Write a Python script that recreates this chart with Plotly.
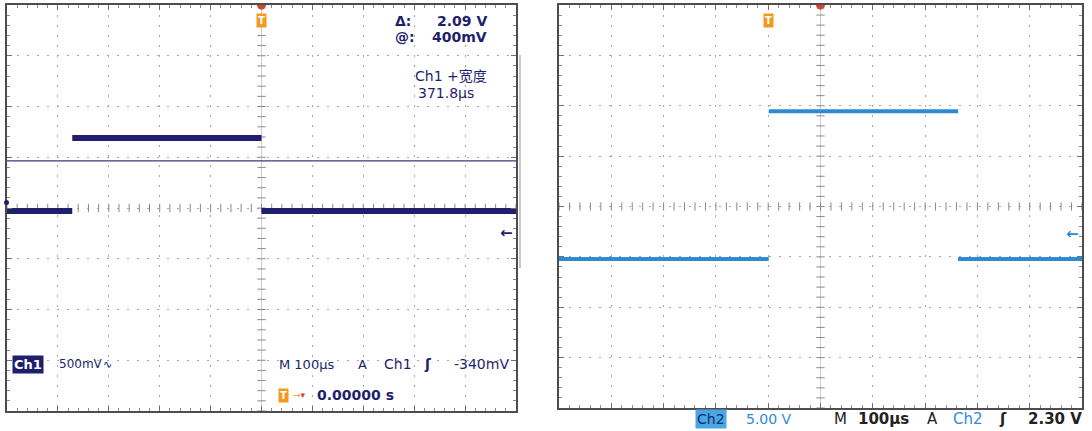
import numpy as np
import plotly.graph_objects as go

W, H = 1092, 431

# ---------------- data (time in µs, level in screen divisions) ----------------
ch1_t = [-500, -371.8, None, -371.8, 0, None, 0, 500]
ch1_v = [-0.06, -0.06, None, 1.38, 1.38, None, -0.06, -0.06]
ch1_cursor_v = 0.93          # horizontal cursor (@: 400mV)
ch1_ground_v = -0.49

ch2_t = [-500, -99, None, -99, 263, None, 263, 500]
ch2_v = [-1.04, -1.04, None, 1.89, 1.89, None, -1.04, -1.04]
ch2_ground_v = -0.55
ch2_trig_t = -100

# readout texts
left_meas = ["Δ:", "2.09 V", "@:", "400mV", "Ch1 +宽度", "371.8µs"]
left_bottom = ["Ch1", "500mV", "∿", "M 100µs", "A", "Ch1", "ʃ", "-340mV", "0.00000 s"]
right_bottom = ["Ch2", "5.00 V", "M", "100µs", "A", "Ch2", "ʃ", "2.30 V"]

# ---------------- styling ----------------
NAVY = "#1f1f6e"
BLUE = "#2f8ad6"
ORANGE = "#f39a1e"
GRID = "#a8a8a8"
FRAME = "#4d4d4d"
FONT = "DejaVu Sans, Noto Sans CJK SC"
DARK = "#222222"


def P(x, y):
    return x / W, 1 - y / H


def xax(domain, anchor):
    return dict(domain=domain, anchor=anchor, range=[-500, 500], dtick=100, tick0=0,
                showgrid=True, gridcolor=GRID, griddash="2px,8px", gridwidth=1,
                showline=True, mirror="ticks", linecolor=FRAME, linewidth=1.5,
                ticks="inside", ticklen=5, tickcolor="#707070", showticklabels=False,
                zeroline=True, zerolinecolor="#cdcdcd", zerolinewidth=1, fixedrange=True,
                minor=dict(dtick=20, ticks="inside", ticklen=3, tickcolor="#8a8a8a",
                           showgrid=False))


def yax(domain, anchor):
    return dict(domain=domain, anchor=anchor, range=[-4, 4], dtick=1, tick0=0,
                showgrid=True, gridcolor=GRID, griddash="2px,8px", gridwidth=1,
                showline=True, mirror="ticks", linecolor=FRAME, linewidth=1.5,
                ticks="inside", ticklen=5, tickcolor="#707070", showticklabels=False,
                zeroline=False, fixedrange=True,
                minor=dict(dtick=0.2, ticks="inside", ticklen=3, tickcolor="#8a8a8a",
                           showgrid=False))


fig = go.Figure()

tick_x = np.arange(-500, 501, 20)
tick_y = np.arange(-4, 4.001, 0.2)

for xa, ya in (("x", "y"), ("x2", "y2")):
    # centre cross ticks
    fig.add_trace(go.Scatter(x=tick_x, y=[0] * len(tick_x), xaxis=xa, yaxis=ya, mode="markers",
                             marker=dict(symbol="line-ns", size=6,
                                         line=dict(width=1, color="#8a8a8a")),
                             hoverinfo="skip"))
    fig.add_trace(go.Scatter(x=[0] * len(tick_y), y=tick_y, xaxis=xa, yaxis=ya, mode="markers",
                             marker=dict(symbol="line-ew", size=6,
                                         line=dict(width=1, color="#8a8a8a")),
                             hoverinfo="skip"))
    # red trigger position marker at top
    fig.add_trace(go.Scatter(x=[0], y=[4], xaxis=xa, yaxis=ya, mode="markers",
                             marker=dict(symbol="circle", size=9, color="#e0402a"),
                             cliponaxis=True, hoverinfo="skip"))

# cursor line (left)
fig.add_trace(go.Scatter(x=[-500, 500], y=[ch1_cursor_v] * 2, xaxis="x", yaxis="y",
                         mode="lines", line=dict(color="#3a3a7a", width=1.2),
                         hoverinfo="skip"))

# Ch1 trace
fig.add_trace(go.Scatter(x=ch1_t, y=ch1_v, xaxis="x", yaxis="y", mode="lines",
                         line=dict(color=NAVY, width=6), connectgaps=False))
# Ch2 trace
fig.add_trace(go.Scatter(x=ch2_t, y=ch2_v, xaxis="x2", yaxis="y2", mode="lines",
                         line=dict(color=BLUE, width=4), connectgaps=False))

ann = []
# ground arrows
ann.append(dict(x=498, y=ch1_ground_v, xref="x", yref="y", text="<b>←</b>", showarrow=False,
                font=dict(family=FONT, size=15, color=NAVY), xanchor="right"))
ann.append(dict(x=498, y=ch2_ground_v, xref="x2", yref="y2", text="<b>←</b>", showarrow=False,
                font=dict(family=FONT, size=15, color=BLUE), xanchor="right"))

# trigger "T" markers
ann.append(dict(x=0, y=3.7, xref="x", yref="y", text="<b>T</b>", showarrow=False,
                bgcolor=ORANGE, borderpad=1, font=dict(family=FONT, size=10, color="white")))
ann.append(dict(x=ch2_trig_t, y=3.7, xref="x2", yref="y2", text="<b>T</b>", showarrow=False,
                bgcolor=ORANGE, borderpad=1, font=dict(family=FONT, size=10, color="white")))


def T(x, y, text, anchor="left", size=13, color=NAVY, bold=False, **kw):
    px, py = P(x, y)
    t = "<b>" + text + "</b>" if bold else text
    d = dict(x=px, y=py, text=t, xanchor=anchor,
             font=dict(family=FONT, size=size, color=color))
    d.update(kw)
    return d


# top-right measurement readouts (left screen)
ann += [
    T(393, 21, left_meas[0], size=14, bold=True),
    T(489, 21, left_meas[1], "right", size=14, bold=True),
    T(393, 37, left_meas[2], size=14, bold=True),
    T(489, 37, left_meas[3], "right", size=14, bold=True),
    T(489, 76, left_meas[4], "right", size=14),
    T(446, 93, left_meas[5], "center", size=14),
]
# bottom readouts (left screen)
ann += [
    T(12, 364, left_bottom[0], size=13, color="white", bold=True, bgcolor=NAVY, borderpad=1),
    T(57, 364, left_bottom[1], size=12),
    T(101, 364, left_bottom[2], size=11),
    T(277, 364, left_bottom[3], size=13),
    T(356, 364, left_bottom[4], size=13),
    T(382, 364, left_bottom[5], size=14),
    T(422, 364, left_bottom[6], size=14, bold=True),
    T(511, 364, left_bottom[7], "right", size=14),
    T(278, 395, "T", size=10, color="white", bold=True, bgcolor=ORANGE, borderpad=1),
    T(291, 395, "→<span style='color:#e0402a'>▾</span>", size=9, color=ORANGE),
    T(315, 395, left_bottom[8], size=14, bold=True),
]
# bottom readouts (below right screen)
ry = 419
ann += [
    T(695, ry, right_bottom[0], size=14, color="#0e2f6a", bgcolor="#4aa6e4", borderpad=1),
    T(744, ry, right_bottom[1], size=14, color=BLUE),
    T(832, ry, right_bottom[2], size=15, color=DARK),
    T(856, ry, right_bottom[3], size=15, color=DARK, bold=True),
    T(925, ry, right_bottom[4], size=15, color=DARK),
    T(951, ry, right_bottom[5], size=15, color=BLUE),
    T(997, ry, right_bottom[6], size=15, color=DARK, bold=True),
    T(1084, ry, right_bottom[7], "right", size=15, color=DARK, bold=True),
]
for a in ann:
    a.setdefault("xref", "paper")
    a.setdefault("yref", "paper")
    a.setdefault("showarrow", False)
    a.setdefault("yanchor", "middle")

shapes = [
    # thin side bar next to the left screen
    dict(type="line", xref="paper", yref="paper", x0=520 / W, x1=520 / W,
         y0=1 - 55 / H, y1=1 - 268 / H, line=dict(color="#c8c8c8", width=2)),
    # small channel marker on the left edge of the left screen
    dict(type="circle", xref="paper", yref="paper", x0=4 / W, x1=9 / W,
         y0=1 - 205 / H, y1=1 - 200 / H, fillcolor=NAVY, line=dict(width=0)),
]

fig.update_layout(
    width=W, height=H, margin=dict(l=0, r=0, t=0, b=0),
    paper_bgcolor="white", plot_bgcolor="white", showlegend=False,
    xaxis=xax([7 / W, 516 / W], "y"),
    yaxis=yax([1 - 411 / H, 1 - 5 / H], "x"),
    xaxis2=xax([559 / W, 1082 / W], "y2"),
    yaxis2=yax([1 - 408 / H, 1 - 5 / H], "x2"),
    annotations=ann, shapes=shapes,
)

fig.write_html("out.html", config={"displayModeBar": False},
               post_script="document.body.style.margin='0px';")
